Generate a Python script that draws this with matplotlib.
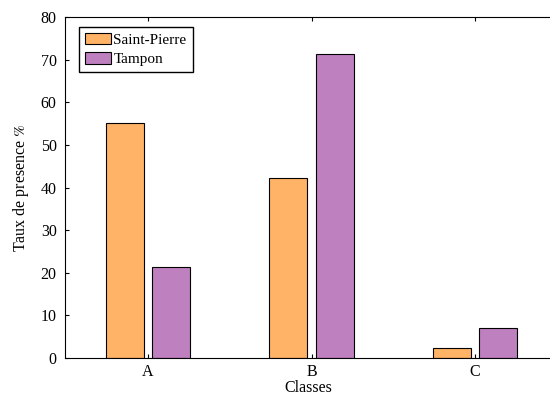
import numpy as np
import matplotlib.pyplot as plt

plt.rcParams['font.family'] = ['Liberation Serif', 'DejaVu Serif']
plt.rcParams['mathtext.fontset'] = 'stix'

classes = ['A', 'B', 'C']
saint_pierre = [55.2, 42.3, 2.4]
tampon = [21.4, 71.4, 7.1]

x = np.arange(len(classes))
width = 0.232
offset = 0.143

fig = plt.figure(figsize=(5.5, 3.96), dpi=100)
ax = fig.add_axes([65 / 550, 1 - 358 / 396, 486 / 550, 341 / 396])

ax.bar(x - offset, saint_pierre, width, color='#FFB366', edgecolor='black', linewidth=0.8, label='Saint-Pierre')
ax.bar(x + offset, tampon, width, color='#BF80BF', edgecolor='black', linewidth=0.8, label='Tampon')

ax.set_xlim(-0.508, 2.465)
ax.set_ylim(0, 80)
ax.set_xticks(x)
ax.set_xticklabels(classes)
ax.set_yticks(range(0, 81, 10))
ax.tick_params(axis='x', direction='in', length=3, top=True, labelsize=11.5, pad=4)
ax.tick_params(axis='y', direction='in', length=3, labelsize=11.5, pad=6)
ax.set_xlabel('Classes', fontsize=11.5, labelpad=0.5)
ax.set_ylabel('Taux de presence $\\%$', fontsize=11.5, labelpad=7)

ax.legend(loc='upper left', bbox_to_anchor=(0.029, 0.972), fontsize=11, fancybox=False,
          edgecolor='black', framealpha=1, handlelength=1.7, handleheight=0.8,
          handletextpad=0.15, borderpad=0.4, labelspacing=0.35, borderaxespad=0)

plt.savefig('out.png', dpi=100)
